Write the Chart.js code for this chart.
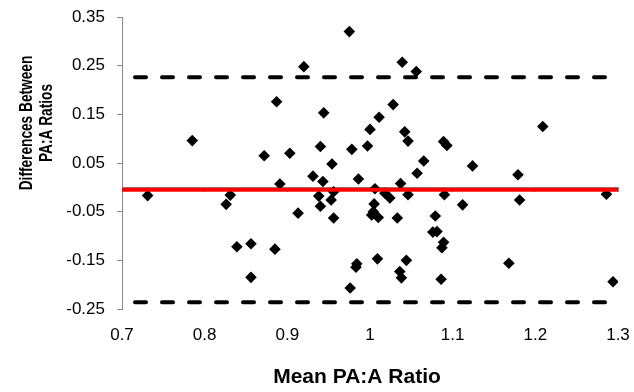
<!DOCTYPE html>
<html>
<head>
<meta charset="utf-8">
<script src="https://cdn.jsdelivr.net/npm/chart.js@4/dist/chart.umd.min.js"></script>
<style>
  html, body { margin: 0; padding: 0; background: #fff; }
  #wrap { width: 634px; height: 392px; }
</style>
</head>
<body>
<div id="wrap"><canvas id="baChart"></canvas></div>
<script>
// mean of the two PA:A ratios (x) and their difference (y)
const meanRatio = [
  0.731, 0.785, 0.831, 0.826, 0.839, 0.856, 0.856, 0.872, 0.887, 0.885,
  0.891, 0.903, 0.913, 0.920, 0.931, 0.938, 0.940, 0.944, 0.943, 0.940,
  0.954, 0.956, 0.953, 0.956, 0.975, 0.978, 0.976, 0.986, 0.984, 0.983,
  0.997, 1.000, 1.006, 1.005, 1.004, 1.002, 1.010, 1.009, 1.011, 1.018,
  1.024, 1.028, 1.033, 1.036, 1.038, 1.037, 1.039, 1.042, 1.046, 1.044,
  1.046, 1.056, 1.057, 1.065, 1.079, 1.076, 1.081, 1.089, 1.087, 1.086,
  1.089, 1.093, 1.090, 1.112, 1.124, 1.168, 1.179, 1.181, 1.209, 1.286,
  1.294
];
const diffRatio = [
  -0.017, 0.096, -0.016, -0.035, -0.122, -0.116, -0.185, 0.065, 0.176, -0.127,
  0.007, 0.070, -0.053, 0.248, 0.023, -0.018, 0.084, 0.153, 0.012, -0.039,
  0.048, -0.009, -0.026, -0.063, 0.320, 0.078, -0.207, 0.017, -0.157, -0.164,
  0.085, 0.119, -0.003, -0.034, -0.050, -0.057, -0.062, -0.147, 0.144, -0.012,
  -0.022, 0.170, -0.063, -0.173, -0.186, 0.008, 0.257, 0.114, 0.095, -0.150,
  -0.015, 0.238, 0.029, 0.054, -0.059, -0.092, -0.091, -0.113, -0.124, -0.189,
  0.094, 0.086, -0.015, -0.036, 0.044, -0.156, 0.026, -0.026, 0.125, -0.014,
  -0.194
];
const meanDiff = -0.005;
const upperLimit = 0.226;
const lowerLimit = -0.236;
const xRange = [0.7, 1.3];
const xTicks = [0.7, 0.8, 0.9, 1.0, 1.1, 1.2, 1.3];
const yTicks = [-0.25, -0.15, -0.05, 0.05, 0.15, 0.25, 0.35];
const xTitle = "Mean PA:A Ratio";
const yTitle = ["Differences Between", "PA:A Ratios"];

const points = meanRatio.map((m, i) => ({ x: m, y: diffRatio[i] }));
const hline = v => xRange.map(x => ({ x: x, y: v }));
const fmt = v => String(Math.round(v * 100) / 100);

Chart.defaults.font.family = "Arial, 'Liberation Sans', sans-serif";
Chart.defaults.color = "#000";

// axis titles sit off-centre in the original, so draw them by hand
const axisTitles = {
  id: "axisTitles",
  afterDraw(chart) {
    const ctx = chart.ctx;
    ctx.save();
    ctx.fillStyle = "#000";
    ctx.textAlign = "center";
    ctx.textBaseline = "middle";
    ctx.font = "bold 21px Arial, 'Liberation Sans', sans-serif";
    ctx.fillText(xTitle, 357, 377);
    ctx.translate(37, 123);
    ctx.rotate(-Math.PI / 2);
    ctx.scale(0.76, 1);
    ctx.font = "bold 18px Arial, 'Liberation Sans', sans-serif";
    ctx.fillText(yTitle[0], 0, -10);
    ctx.fillText(yTitle[1], 0, 10);
    ctx.restore();
  }
};

const dashed = v => ({
  data: hline(v),
  showLine: true,
  borderColor: "#000",
  borderWidth: 4,
  borderDash: [11, 16],
  borderDashOffset: 14,
  borderCapStyle: "round",
  pointRadius: 0
});

new Chart(document.getElementById("baChart"), {
  type: "scatter",
  data: {
    datasets: [
      {
        label: "Mean difference",
        data: hline(meanDiff),
        showLine: true,
        borderColor: "#ff0000",
        borderWidth: 4,
        pointRadius: 0
      },
      {
        label: "Differences",
        data: points,
        pointStyle: "rectRot",
        pointRadius: 5.8,
        backgroundColor: "#000",
        borderColor: "#000",
        borderWidth: 0
      },
      Object.assign({ label: "Upper limit" }, dashed(upperLimit)),
      Object.assign({ label: "Lower limit" }, dashed(lowerLimit))
    ]
  },
  options: {
    responsive: true,
    maintainAspectRatio: false,
    animation: false,
    layout: { padding: { left: 0, right: 16, top: 17, bottom: 0 } },
    plugins: { legend: { display: false }, tooltip: { enabled: false } },
    scales: {
      x: {
        type: "linear",
        position: "bottom",
        min: xRange[0],
        max: xRange[1],
        afterBuildTicks: s => { s.ticks = xTicks.map(v => ({ value: v })); },
        afterFit: s => { s.height = 83; s.paddingLeft = 0; s.paddingRight = 0; },
        border: { display: false },
        grid: { display: false },
        ticks: { padding: 8, font: { size: 17 }, callback: v => fmt(v) }
      },
      xAxisLine: {
        type: "linear",
        axis: "x",
        position: { y: 0 },
        min: xRange[0],
        max: xRange[1],
        afterBuildTicks: s => { s.ticks = xTicks.map(v => ({ value: v })); },
        afterFit: s => { s.paddingLeft = 0; s.paddingRight = 0; },
        border: { display: true, color: "#888", width: 1 },
        grid: { drawOnChartArea: false, drawTicks: true, tickLength: 4, color: "#888" },
        ticks: { display: false }
      },
      y: {
        min: -0.25,
        max: 0.35,
        afterBuildTicks: s => { s.ticks = yTicks.map(v => ({ value: v })); },
        afterFit: s => { s.width = 122; s.paddingTop = 0; s.paddingBottom = 0; },
        border: { display: true, color: "#888", width: 1 },
        grid: { drawOnChartArea: false, drawTicks: true, tickLength: 5, color: "#888" },
        ticks: { padding: 12, font: { size: 17 }, callback: v => fmt(v) }
      }
    }
  },
  plugins: [axisTitles]
});
</script>
</body>
</html>
